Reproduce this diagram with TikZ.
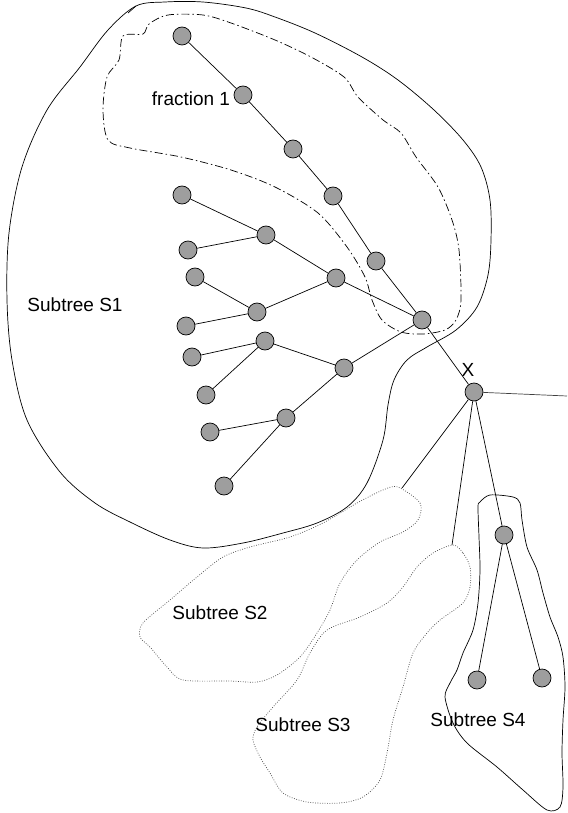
\documentclass[tikz,border=0pt]{standalone}
\usepackage{fontspec}
\setmainfont{Liberation Sans}
\begin{document}
\begin{tikzpicture}[x=1pt,y=-1pt,
  vert/.style={circle,draw=black,line width=0.7pt,fill=black!38,minimum size=18pt,inner sep=0pt},
  edge/.style={line width=0.7pt},
  lbl/.style={font=\fontsize{19}{22}\selectfont,inner sep=0pt},
  solidhull/.style={line width=0.7pt},
  fracthull/.style={line width=0.7pt,dash pattern=on 8pt off 3pt on 1.5pt off 3pt},
  dothull/.style={line width=0.7pt,black!70,dash pattern=on 0.8pt off 1.6pt}]
\useasboundingbox (0,0) rectangle (567,813);

% outline of subtree S1
\draw[solidhull] plot[smooth cycle,tension=0.55] coordinates {
 (136,6) (165,2) (203,2) (246,8) (275,17) (315,33) (362,57) (398,80) (434,110)
 (463,140) (481,167) (490,200) (491,240) (488,275) (477,307) (456,330) (427,347)
 (407,360) (394,380) (388,405) (383,440) (367,483) (347,507) (317,523) (283,533)
 (243,543) (203,548) (170,540) (130,522) (95,503) (60,472) (27,420) (12,360)
 (7,300) (9,233) (22,167) (47,110) (80,67) (108,30)};
\draw[solidhull] (136,6) -- (128,13);

% outline of fraction 1
\draw[fracthull] plot[smooth cycle,tension=0.5] coordinates {
 (123,36) (143,34) (149,24) (168,15) (203,15) (231,23) (275,40) (311,57) (344,77)
 (358,97) (383,120) (401,133) (416,157) (438,187) (452,220) (459,250) (461,300)
 (456,320) (445,330) (423,334) (401,332) (382,320) (372,300) (365,277) (347,247)
 (318,213) (275,187) (231,170) (181,157) (130,148) (108,140) (103,110) (107,77) (119,60)};

% outline of subtree S2
\draw[dothull] plot[smooth cycle,tension=0.5] coordinates {
 (398,487) (420,503) (418,520) (403,532) (380,542) (357,560) (340,583) (330,610)
 (317,633) (300,657) (277,675) (257,682) (230,681) (183,680) (167,667) (150,647)
 (140,637) (143,623) (170,600) (197,577) (223,557) (250,547) (290,537) (323,523)
 (357,503) (383,490)};

% outline of subtree S3
\draw[dothull] plot[smooth cycle,tension=0.5] coordinates {
 (453,545) (463,553) (470,567) (470,587) (463,603) (440,620) (427,633) (413,653)
 (403,687) (393,720) (387,753) (380,780) (363,797) (340,803) (307,802) (283,793)
 (270,773) (260,757) (253,740) (257,727) (273,707) (297,680) (310,653) (327,630)
 (360,617) (387,603) (403,587) (417,567) (433,553)};

% outline of subtree S4
\draw[solidhull] plot[smooth cycle,tension=0.5] coordinates {
 (480,502) (490,495) (513,497) (520,503) (522,520) (527,547) (537,570) (543,593)
 (550,617) (558,637) (563,657) (565,687) (563,720) (562,753) (563,787) (560,807)
 (547,810) (523,790) (497,767) (467,743) (453,723) (445,697) (450,683) (457,670)
 (463,653) (473,630) (478,603) (480,570) (479,537) (478,507)};

% vertices
\node[vert] (a) at (182,36) {};
\node[vert] (b) at (243,95) {};
\node[vert] (c) at (293,149) {};
\node[vert] (d) at (333,196) {};
\node[vert] (e) at (376,261) {};
\node[vert] (f) at (422,320) {};
\node[vert] (x) at (474,392) {};
\node[vert] (g1) at (182,195) {};
\node[vert] (g2) at (266,235) {};
\node[vert] (g3) at (188,250) {};
\node[vert] (h) at (336,278) {};
\node[vert] (i1) at (195,277) {};
\node[vert] (i2) at (257,312) {};
\node[vert] (i3) at (186,326) {};
\node[vert] (j) at (265,341) {};
\node[vert] (j1) at (192,357) {};
\node[vert] (j2) at (206,395) {};
\node[vert] (k) at (344,368) {};
\node[vert] (l) at (286,418) {};
\node[vert] (l1) at (210,432) {};
\node[vert] (l2) at (224,486) {};
\node[vert] (m) at (504,535) {};
\node[vert] (m1) at (477,680) {};
\node[vert] (m2) at (542,678) {};

\coordinate (s2top) at (402,488);
\coordinate (s3top) at (452,545);
\coordinate (rightend) at (567,396);

% connectors
\draw[edge] (a) -- (b) -- (c) -- (d) -- (e) -- (f) -- (x);
\draw[edge] (g1) -- (g2); \draw[edge] (g3) -- (g2); \draw[edge] (g2) -- (h);
\draw[edge] (i1) -- (i2); \draw[edge] (i3) -- (i2); \draw[edge] (i2) -- (h);
\draw[edge] (h) -- (f);
\draw[edge] (j1) -- (j); \draw[edge] (j2) -- (j); \draw[edge] (j) -- (k);
\draw[edge] (l1) -- (l); \draw[edge] (l2) -- (l); \draw[edge] (l) -- (k);
\draw[edge] (k) -- (f);
\draw[edge,black!75] (x) -- (rightend);
\draw[edge] (x) -- (s2top);
\draw[edge] (x) -- (s3top);
\draw[edge] (x) -- (m);
\draw[edge] (m) -- (m1);
\draw[edge] (m) -- (m2);

% labels
\node[lbl] (tfrac) at (191,99) {fraction 1};
\node[lbl] (tx) at (468,370) {X};
\node[lbl] (ts1) at (75,305) {Subtree S1};
\node[lbl] (ts2) at (220,613) {Subtree S2};
\node[lbl] (ts3) at (303,725) {Subtree S3};
\node[lbl] (ts4) at (478,720) {Subtree S4};
\end{tikzpicture}
\end{document}
